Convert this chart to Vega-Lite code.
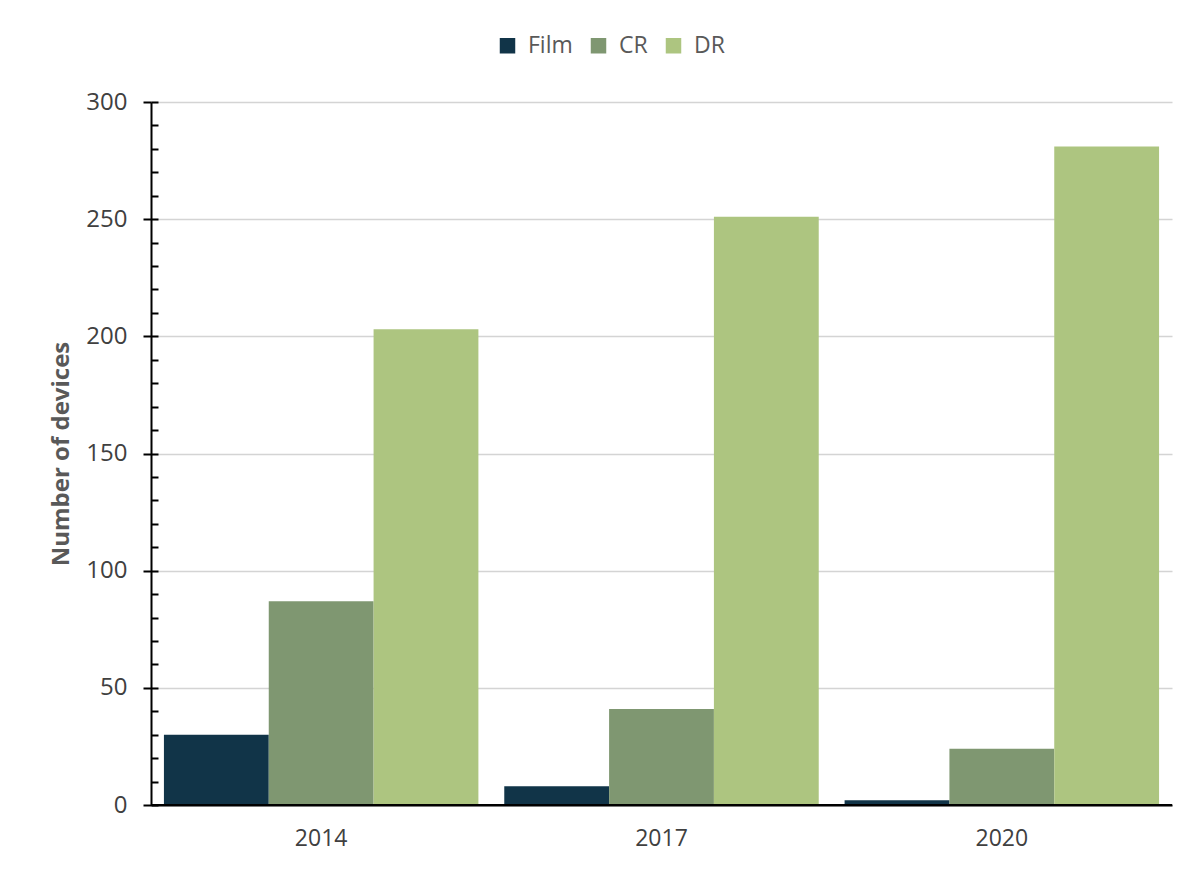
{
  "$schema": "https://vega.github.io/schema/vega-lite/v6.json",
  "width": 1021,
  "height": 703,
  "autosize": {"type": "none"},
  "padding": {"left": 151, "top": 102, "right": 21, "bottom": 65},
  "background": "white",
  "config": {
    "view": {"stroke": null},
    "font": "Open Sans"
  },
  "data": {
    "values": [
      {"year": "2014", "type": "Film", "value": 30},
      {"year": "2014", "type": "CR", "value": 87},
      {"year": "2014", "type": "DR", "value": 203},
      {"year": "2017", "type": "Film", "value": 8},
      {"year": "2017", "type": "CR", "value": 41},
      {"year": "2017", "type": "DR", "value": 251},
      {"year": "2020", "type": "Film", "value": 2},
      {"year": "2020", "type": "CR", "value": 24},
      {"year": "2020", "type": "DR", "value": 281}
    ]
  },
  "resolve": {"axis": {"y": "independent"}},
  "layer": [
    {
      "mark": {"type": "bar"},
      "encoding": {
        "x": {
          "field": "year", "type": "nominal",
          "scale": {"paddingInner": 0.076, "paddingOuter": 0.038},
          "axis": {
            "title": null, "labelAngle": 0, "ticks": false,
            "domainColor": "#000000", "domainWidth": 2,
            "labelFontSize": 23, "labelColor": "#404040", "labelPadding": 22
          }
        },
        "xOffset": {"field": "type", "type": "nominal", "sort": ["Film", "CR", "DR"], "scale": {"paddingInner": 0, "paddingOuter": 0}},
        "y": {
          "field": "value", "type": "quantitative",
          "scale": {"domain": [0, 300], "nice": false},
          "axis": {
            "orient": "left",
            "title": "Number of devices",
            "titleFontSize": 24, "titleFontWeight": "bold", "titleColor": "#595959", "titlePadding": 12,
            "values": [0, 50, 100, 150, 200, 250, 300],
            "labelFontSize": 24, "labelColor": "#404040", "labelPadding": 16,
            "tickSize": 8, "tickColor": "#000000", "tickWidth": 2,
            "domainColor": "#000000", "domainWidth": 2,
            "grid": true, "gridColor": "#d4d4d4", "gridWidth": 1.5
          }
        },
        "color": {
          "field": "type", "type": "nominal",
          "scale": {"domain": ["Film", "CR", "DR"], "range": ["#113448", "#7f9771", "#adc580"]},
          "legend": {
            "title": null, "orient": "none", "direction": "horizontal",
            "legendX": 345, "legendY": -68,
            "symbolType": "square", "symbolSize": 240, "symbolStrokeWidth": 0,
            "labelFontSize": 23, "labelColor": "#595959", "labelOffset": 9,
            "columnPadding": 14
          }
        }
      }
    },
    {
      "mark": {"type": "rule", "color": "#000000", "strokeWidth": 2},
      "encoding": {
        "y": {
          "datum": 0, "type": "quantitative",
          "axis": {
            "orient": "left",
            "title": null, "labels": false, "domain": false, "grid": false,
            "values": [0,10,20,30,40,50,60,70,80,90,100,110,120,130,140,150,160,170,180,190,200,210,220,230,240,250,260,270,280,290,300],
            "tickSize": -7, "tickColor": "#000000", "tickWidth": 2
          }
        }
      }
    }
  ]
}
